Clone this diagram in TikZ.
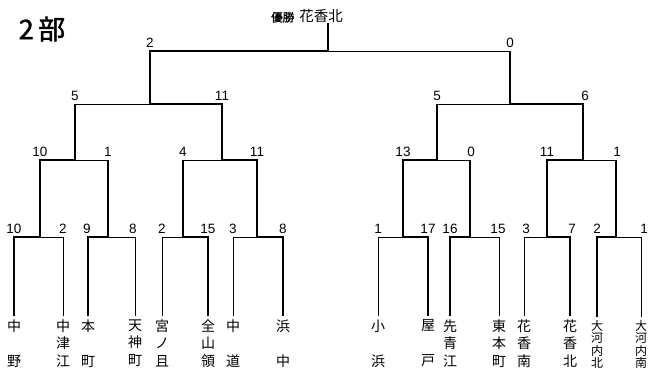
\documentclass[tikz,border=0pt]{standalone}
\usepackage{fontspec}
\setmainfont{Liberation Sans}
\newfontfamily\jp{Noto Sans CJK JP}
\newfontfamily\jpfb[FakeBold=1.5]{Noto Sans CJK JP}
\begin{document}
\begin{tikzpicture}[x=1pt,y=-1pt,
  thk/.style={line width=2.4pt},
  thn/.style={line width=0.9pt},
  num/.style={font=\fontsize{13.5}{13.5}\selectfont, inner sep=0pt, anchor=south},
  team/.style={font=\jp\fontsize{14}{17.5}\selectfont, align=center, anchor=north, inner sep=0pt, outer sep=3.5pt},
  teamf/.style={team, font=\jp\fontsize{12}{12.4}\selectfont}]
\useasboundingbox (0,0) rectangle (648,370);
% title
\node[font=\jpfb\fontsize{27}{27}\selectfont, inner sep=0pt] (title) at (42,29) {2\,部};
\node[inner sep=0pt, font=\jp] (ch) at (307,16) {{\jpfb\fontsize{11.5}{11.5}\selectfont 優勝}\hspace{5pt}{\fontsize{14.5}{14.5}\selectfont 花香北}};
% junctions
\coordinate (q) at (328,51);
\coordinate (p1) at (150,104); \coordinate (p2) at (510,104);
\coordinate (n1) at (75,160); \coordinate (n2) at (222,160);
\coordinate (n3) at (437,160); \coordinate (n4) at (583,160);
\coordinate (m1) at (40,237); \coordinate (m2) at (108,237);
\coordinate (m3) at (183,237); \coordinate (m4) at (257,237);
\coordinate (m5) at (403,237); \coordinate (m6) at (470,237);
\coordinate (m7) at (547,237); \coordinate (m8) at (616,237);
% teams
\node[team] (t1) at (14,316) {中\\\phantom{中}\\野};
\node[team] (t2) at (63,316) {中\\津\\江};
\node[team] (t3) at (88,316) {本\\\phantom{中}\\町};
\node[team] (t4) at (135,316) {天\\神\\町};
\node[team] (t5) at (162,316) {宮\\ノ\\且};
\node[team] (t6) at (208,316) {全\\山\\領};
\node[team] (t7) at (233,316) {中\\\phantom{中}\\道};
\node[team] (t8) at (283,316) {浜\\\phantom{中}\\中};
\node[team] (t9) at (378,316) {小\\\phantom{中}\\浜};
\node[team] (t10) at (428,316) {屋\\\phantom{中}\\戸};
\node[team] (t11) at (450,316) {先\\青\\江};
\node[team] (t12) at (499,316) {東\\本\\町};
\node[team] (t13) at (524,316) {花\\香\\南};
\node[team] (t14) at (570,316) {花\\香\\北};
\node[teamf] (t15) at (597,317) {大\\河\\内\\北};
\node[teamf] (t16) at (641,317) {大\\河\\内\\南};
% leaves
\draw[thk] (t1.north) |- (m1);  \draw[thn] (t2.north) |- (m1);
\draw[thk] (t3.north) |- (m2);  \draw[thn] (t4.north) |- (m2);
\draw[thn] (t5.north) |- (m3);  \draw[thk] (t6.north) |- (m3);
\draw[thn] (t7.north) |- (m4);  \draw[thk] (t8.north) |- (m4);
\draw[thn] (t9.north) |- (m5);  \draw[thk] (t10.north) |- (m5);
\draw[thk] (t11.north) |- (m6); \draw[thn] (t12.north) |- (m6);
\draw[thn] (t13.north) |- (m7); \draw[thk] (t14.north) |- (m7);
\draw[thk] (t15.north) |- (m8); \draw[thn] (t16.north) |- (m8);
% level 3
\draw[thk] (m1) |- (n1);
\draw[thn] (m2) |- (n1); \draw[thk] (m2) -- (m2 |- n1);
\draw[thn] (m3) |- (n2); \draw[thk] (m3) -- (m3 |- n2);
\draw[thk] (m4) |- (n2);
\draw[thk] (m5) |- (n3);
\draw[thn] (m6) |- (n3); \draw[thk] (m6) -- (m6 |- n3);
\draw[thk] (m7) |- (n4);
\draw[thn] (m8) |- (n4); \draw[thk] (m8) -- (m8 |- n4);
% level 2
\draw[thn] (n1) |- (p1); \draw[thk] (n1) -- (n1 |- p1);
\draw[thk] (n2) |- (p1);
\draw[thn] (n3) |- (p2); \draw[thk] (n3) -- (n3 |- p2);
\draw[thk] (n4) |- (p2);
% level 1
\draw[thk] (p1) |- (q);
\draw[thn] (p2) |- (q); \draw[thk] (p2) -- (p2 |- q);
\draw[thk] (q) -- (q |- ch.south);
% scores level 4
\node[num] (s1) at (14,234) {10};
\node[num] (s2) at (63,234) {2};
\node[num] (s3) at (87,234) {9};
\node[num] (s4) at (133,234) {8};
\node[num] (s5) at (162,234) {2};
\node[num] (s6) at (208,234) {15};
\node[num] (s7) at (233,234) {3};
\node[num] (s8) at (283,234) {8};
\node[num] (s9) at (378,234) {1};
\node[num] (s10) at (428,234) {17};
\node[num] (s11) at (450,234) {16};
\node[num] (s12) at (498,234) {15};
\node[num] (s13) at (526,234) {3};
\node[num] (s14) at (572,234) {7};
\node[num] (s15) at (597,234) {2};
\node[num] (s16) at (644,234) {1};
% scores level 3
\node[num] (r1) at (40,157) {10};
\node[num] (r2) at (108,157) {1};
\node[num] (r3) at (183,157) {4};
\node[num] (r4) at (257,157) {11};
\node[num] (r5) at (403,157) {13};
\node[num] (r6) at (471,157) {0};
\node[num] (r7) at (547,157) {11};
\node[num] (r8) at (617,157) {1};
% scores level 2
\node[num] (u1) at (75,101) {5};
\node[num] (u2) at (222,101) {11};
\node[num] (u3) at (437,101) {5};
\node[num] (u4) at (585,101) {6};
% scores level 1
\node[num] (v1) at (150,48) {2};
\node[num] (v2) at (510,48) {0};
\end{tikzpicture}
\end{document}
